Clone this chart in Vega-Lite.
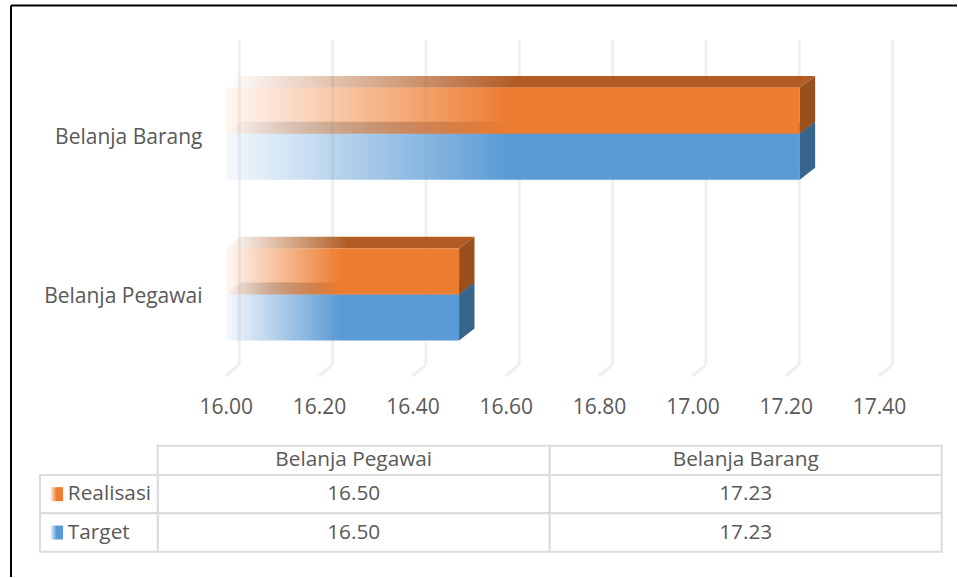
{"$schema":"https://vega.github.io/schema/vega-lite/v6.json","width":958,"height":578,"autosize":{"type":"fit","contains":"padding"},"padding":0,"background":"#ffffff","config":{"view":{"stroke":null},"text":{"font":"Open Sans","fontSize":20.8,"color":"#595959"},"axis":{"labelFont":"Open Sans","labelFontSize":21,"labelColor":"#595959"}},
"datasets":{"bars":[{"category":"Belanja Pegawai","series":"Realisasi","value":16.5},{"category":"Belanja Pegawai","series":"Target","value":16.5},{"category":"Belanja Barang","series":"Realisasi","value":17.23},{"category":"Belanja Barang","series":"Target","value":17.23}],"ticks":[{"tick":16.0},{"tick":16.2},{"tick":16.4},{"tick":16.6},{"tick":16.8},{"tick":17.0},{"tick":17.2},{"tick":17.4}]},
"resolve":{"scale":{"x":"independent","y":"independent"}},
"layer":[
{"layer":[
{"data":{"name":"ticks"},"transform":[{"calculate":"datum.tick+0.029","as":"back"},{"calculate":"-1.043","as":"a"},{"calculate":"6.02","as":"b"}],"mark":{"type":"rule","stroke":"#efefef","strokeWidth":3},"encoding":{"x":{"field":"back","type":"quantitative","scale":{"domain":[15.5162,17.567],"nice":false,"zero":false},"title":null,"axis":{"values":[16,16.2,16.4,16.6,16.8,17,17.2,17.4],"domain":false,"ticks":false,"grid":false,"labelPadding":0,"offset":-181,"labelExpr":"format(datum.value,'.2f')"}},"y":{"field":"a","type":"quantitative","scale":{"domain":[10.652,-1.913],"nice":false,"zero":false},"title":null,"axis":{"values":[1.08,4.54],"domain":false,"ticks":false,"grid":false,"labelPadding":0,"offset":-202,"labelExpr":"datum.value<2?'Belanja Barang':'Belanja Pegawai'"}},"y2":{"field":"b"}}},
{"data":{"name":"ticks"},"transform":[{"calculate":"[0,1]","as":"p"},{"flatten":["p"]},{"calculate":"datum.p==0?datum.tick:datum.tick+0.029","as":"gx"},{"calculate":"datum.p==0?6.28:6.02","as":"gy"}],"mark":{"type":"line","stroke":"#efefef","strokeWidth":3},"encoding":{"x":{"field":"gx","type":"quantitative"},"y":{"field":"gy","type":"quantitative"},"detail":{"field":"tick","type":"quantitative"}}},
{"data":{"values":[{"frame":"left"}]},"transform":[{"calculate":"15.5398","as":"fx"},{"calculate":"-1.793","as":"fy"},{"calculate":"10.652","as":"fy2"}],"mark":{"type":"rule","stroke":"#000000","strokeWidth":2},"encoding":{"x":{"field":"fx","type":"quantitative"},"y":{"field":"fy","type":"quantitative"},"y2":{"field":"fy2"}}},
{"data":{"values":[{"frame":"top"}]},"transform":[{"calculate":"15.5398","as":"fx"},{"calculate":"17.567","as":"fx2"},{"calculate":"-1.793","as":"fy"}],"mark":{"type":"rule","stroke":"#000000","strokeWidth":2},"encoding":{"x":{"field":"fx","type":"quantitative"},"x2":{"field":"fx2"},"y":{"field":"fy","type":"quantitative"}}},
{"data":{"name":"bars"},"transform":[{"filter":"datum.series=='Target'"},{"calculate":"(datum.category=='Belanja Barang'?0:3.5)+1","as":"s"},{"calculate":"[0,1,2,3]","as":"p"},{"flatten":["p"]},{"calculate":"datum.p==0?16:datum.p==1?16.033:datum.p==2?datum.value:datum.value+0.033","as":"xp"},{"calculate":"datum.p==0?datum.s:datum.s-0.26","as":"yt"},{"calculate":"datum.p==3?datum.s-0.26:datum.s","as":"yb"}],"mark":{"type":"area","color":{"gradient":"linear","x1":0,"x2":1,"y1":0,"y2":0,"stops":[{"offset":0,"color":"rgba(62,104,140,0)"},{"offset":0.49,"color":"rgba(62,104,140,1)"},{"offset":1,"color":"rgba(62,104,140,1)"}]}},"encoding":{"x":{"field":"xp","type":"quantitative"},"y":{"field":"yt","type":"quantitative"},"y2":{"field":"yb"},"detail":{"field":"category","type":"nominal"}}},
{"data":{"name":"bars"},"transform":[{"filter":"datum.series=='Target'"},{"calculate":"(datum.category=='Belanja Barang'?0:3.5)+1","as":"s"},{"calculate":"datum.s+1","as":"s2"},{"calculate":"16","as":"x0"}],"mark":{"type":"rect","color":{"gradient":"linear","x1":0,"x2":1,"y1":0,"y2":0,"stops":[{"offset":0,"color":"rgba(91,155,213,0.06)"},{"offset":0.49,"color":"rgba(91,155,213,1)"},{"offset":1,"color":"rgba(91,155,213,1)"}]}},"encoding":{"x":{"field":"x0","type":"quantitative"},"x2":{"field":"value"},"y":{"field":"s","type":"quantitative"},"y2":{"field":"s2"}}},
{"data":{"name":"bars"},"transform":[{"filter":"datum.series=='Realisasi'"},{"calculate":"datum.category=='Belanja Barang'?0:3.5","as":"s"},{"calculate":"[0,1,2,3]","as":"p"},{"flatten":["p"]},{"calculate":"datum.p==0?16:datum.p==1?16.033:datum.p==2?datum.value:datum.value+0.033","as":"xp"},{"calculate":"datum.p==0?datum.s:datum.s-0.26","as":"yt"},{"calculate":"datum.p==3?datum.s-0.26:datum.s","as":"yb"}],"mark":{"type":"area","color":{"gradient":"linear","x1":0,"x2":1,"y1":0,"y2":0,"stops":[{"offset":0,"color":"rgba(178,92,36,0)"},{"offset":0.49,"color":"rgba(178,92,36,1)"},{"offset":1,"color":"rgba(178,92,36,1)"}]}},"encoding":{"x":{"field":"xp","type":"quantitative"},"y":{"field":"yt","type":"quantitative"},"y2":{"field":"yb"},"detail":{"field":"category","type":"nominal"}}},
{"data":{"name":"bars"},"transform":[{"calculate":"(datum.category=='Belanja Barang'?0:3.5)+(datum.series=='Target'?1:0)","as":"s"},{"calculate":"[0,1]","as":"p"},{"flatten":["p"]},{"calculate":"datum.p==0?datum.value:datum.value+0.033","as":"xp"},{"calculate":"datum.p==0?datum.s:datum.s-0.26","as":"yt"},{"calculate":"datum.yt+1","as":"yb"}],"mark":{"type":"area"},"encoding":{"x":{"field":"xp","type":"quantitative"},"y":{"field":"yt","type":"quantitative"},"y2":{"field":"yb"},"color":{"field":"series","type":"nominal","scale":{"domain":["Realisasi","Target"],"range":["#9a501c","#38658b"]},"legend":null},"detail":{"field":"category","type":"nominal"}}},
{"data":{"name":"bars"},"transform":[{"filter":"datum.series=='Realisasi'"},{"calculate":"datum.category=='Belanja Barang'?0:3.5","as":"s"},{"calculate":"datum.s+1","as":"s2"},{"calculate":"16","as":"x0"}],"mark":{"type":"rect","color":{"gradient":"linear","x1":0,"x2":1,"y1":0,"y2":0,"stops":[{"offset":0,"color":"rgba(237,125,49,0.06)"},{"offset":0.49,"color":"rgba(237,125,49,1)"},{"offset":1,"color":"rgba(237,125,49,1)"}]}},"encoding":{"x":{"field":"x0","type":"quantitative"},"x2":{"field":"value"},"y":{"field":"s","type":"quantitative"},"y2":{"field":"s2"}}}
]},
{"data":{"name":"bars"},"transform":[{"filter":"datum.series=='Target'"},{"calculate":"'Header'","as":"row"}],"encoding":{"x":{"field":"category","type":"nominal","scale":{"type":"band","domain":["Belanja Pegawai","Belanja Barang"],"range":[157.7,941.7],"paddingInner":0,"paddingOuter":0},"axis":null},"y":{"field":"row","type":"nominal","scale":{"type":"band","domain":["Header"],"range":[445.7,475],"paddingInner":0,"paddingOuter":0},"axis":null}},"layer":[{"mark":{"type":"rect","fill":"#ffffff","stroke":"#dcdcdc","strokeWidth":2}},{"mark":{"type":"text"},"encoding":{"text":{"field":"category","type":"nominal"}}}]},
{"data":{"name":"bars"},"encoding":{"x":{"field":"category","type":"nominal","scale":{"type":"band","domain":["Belanja Pegawai","Belanja Barang"],"range":[157.7,941.7],"paddingInner":0,"paddingOuter":0},"axis":null},"y":{"field":"series","type":"nominal","scale":{"type":"band","domain":["Realisasi","Target"],"range":[475,551.7],"paddingInner":0,"paddingOuter":0},"axis":null}},"layer":[{"mark":{"type":"rect","fill":"#ffffff","stroke":"#dcdcdc","strokeWidth":2}},{"mark":{"type":"text"},"encoding":{"text":{"field":"value","type":"quantitative","format":".2f"}}}]},
{"data":{"name":"bars"},"transform":[{"filter":"datum.category=='Belanja Barang'"},{"calculate":"'Seri'","as":"col"}],"encoding":{"x":{"field":"col","type":"nominal","scale":{"type":"band","domain":["Seri"],"range":[40,157.7],"paddingInner":0,"paddingOuter":0},"axis":null},"y":{"field":"series","type":"nominal","scale":{"type":"band","domain":["Realisasi","Target"],"range":[475,551.7],"paddingInner":0,"paddingOuter":0},"axis":null}},"layer":[{"mark":{"type":"rect","fill":"#ffffff","stroke":"#dcdcdc","strokeWidth":2}},{"mark":{"type":"text","align":"left","xOffset":-31},"encoding":{"text":{"field":"series","type":"nominal"}}},
{"transform":[{"filter":"datum.series=='Realisasi'"}],"mark":{"type":"rect","width":13,"height":14,"xOffset":-42.3,"color":{"gradient":"linear","x1":0,"x2":1,"y1":0,"y2":0,"stops":[{"offset":0,"color":"rgba(237,125,49,0)"},{"offset":0.49,"color":"rgba(237,125,49,1)"},{"offset":1,"color":"rgba(237,125,49,1)"}]}}},
{"transform":[{"filter":"datum.series=='Target'"}],"mark":{"type":"rect","width":13,"height":14,"xOffset":-42.3,"color":{"gradient":"linear","x1":0,"x2":1,"y1":0,"y2":0,"stops":[{"offset":0,"color":"rgba(91,155,213,0)"},{"offset":0.49,"color":"rgba(91,155,213,1)"},{"offset":1,"color":"rgba(91,155,213,1)"}]}}}]}
]}
